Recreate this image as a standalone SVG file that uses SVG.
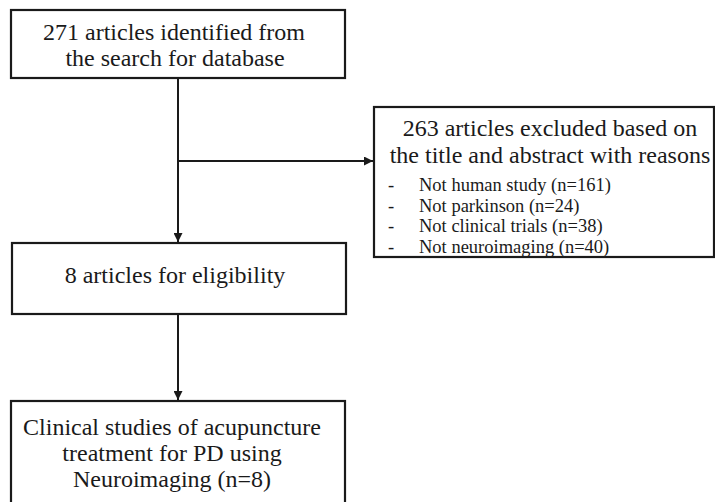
<svg xmlns="http://www.w3.org/2000/svg" width="715" height="502" viewBox="0 0 715 502">
<style>
.box{fill:#fff;stroke:#1a1a1a;stroke-width:2.2}
.t{font-family:"Liberation Serif","Times New Roman",serif;font-size:24px;fill:#1a1a1a;text-anchor:middle}
.s{font-family:"Liberation Serif","Times New Roman",serif;font-size:18.5px;fill:#1a1a1a}
.c{stroke:#1a1a1a;stroke-width:2;fill:none}
</style>
<defs>
<marker id="ah" viewBox="0 0 10 10" refX="10" refY="5" markerWidth="9" markerHeight="9" markerUnits="userSpaceOnUse" orient="auto">
<path d="M0,0 L10,5 L0,10 z" fill="#1a1a1a"/>
</marker>
</defs>
<rect width="715" height="502" fill="#fff"/>
<g id="connectors">
<line class="c" x1="178" y1="79" x2="178" y2="242" marker-end="url(#ah)"/>
<line class="c" x1="178" y1="161" x2="373" y2="161" marker-end="url(#ah)"/>
<line class="c" x1="178" y1="315" x2="178" y2="400" marker-end="url(#ah)"/>
</g>
<g id="identified">
<rect class="box" x="11" y="10" width="334" height="68"/>
<text class="t" x="174" y="40">271 articles identified from</text>
<text class="t" x="175" y="66">the search for database</text>
</g>
<g id="excluded">
<rect class="box" x="374" y="107" width="340" height="150"/>
<text class="t" x="550" y="136">263 articles excluded based on</text>
<text class="t" x="550" y="163">the title and abstract with reasons</text>
<text class="s" x="388" y="191">-</text><text class="s" x="419" y="191">Not human study (n=161)</text>
<text class="s" x="388" y="212">-</text><text class="s" x="419" y="212">Not parkinson (n=24)</text>
<text class="s" x="388" y="232">-</text><text class="s" x="419" y="232">Not clinical trials (n=38)</text>
<text class="s" x="388" y="253">-</text><text class="s" x="419" y="253">Not neuroimaging (n=40)</text>
</g>
<g id="eligibility">
<rect class="box" x="12" y="243" width="334" height="71"/>
<text class="t" x="175" y="283">8 articles for eligibility</text>
</g>
<g id="included">
<rect class="box" x="11" y="401" width="334" height="115"/>
<text class="t" x="172" y="435">Clinical studies of acupuncture</text>
<text class="t" x="172" y="461">treatment for PD using</text>
<text class="t" x="172" y="487">Neuroimaging (n=8)</text>
</g>
</svg>
